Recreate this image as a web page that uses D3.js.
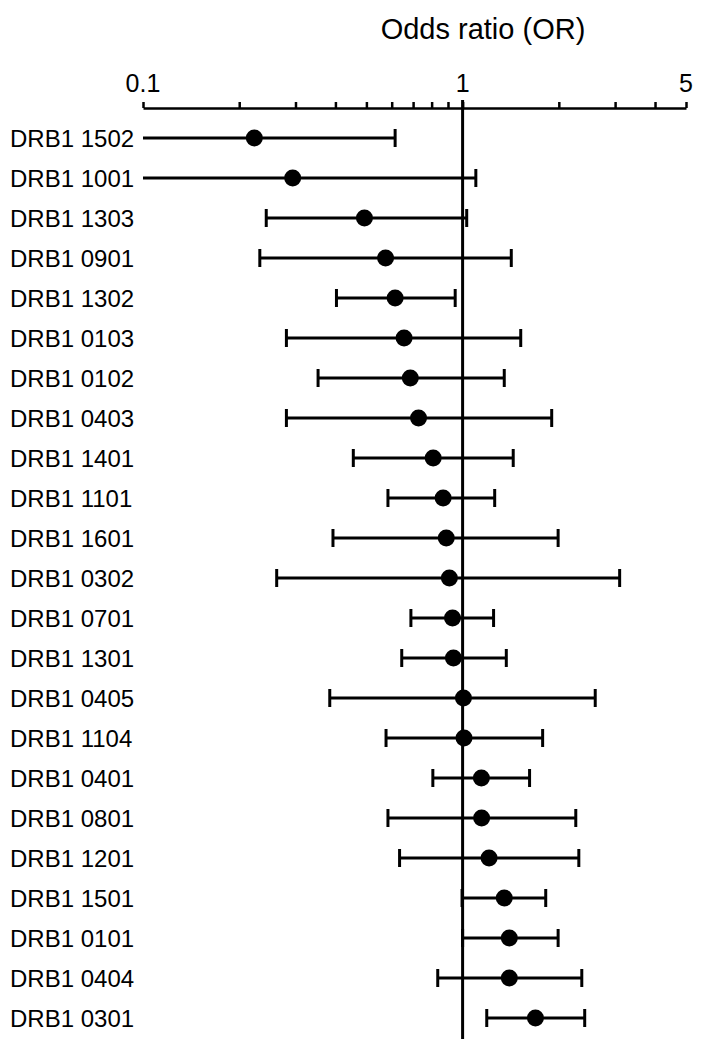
<!DOCTYPE html>
<html>
<head>
<meta charset="utf-8">
<script src="https://cdn.jsdelivr.net/npm/d3@7"></script>
<style>
  body { margin: 0; background: #fff; }
  svg { display: block; font-family: Arial, "Liberation Sans", sans-serif; }
</style>
</head>
<body>
<div id="forest"></div>
<script>
// alleles, top to bottom
var alleles = ["DRB1 1502", "DRB1 1001", "DRB1 1303", "DRB1 0901", "DRB1 1302", "DRB1 0103",
    "DRB1 0102", "DRB1 0403", "DRB1 1401", "DRB1 1101", "DRB1 1601", "DRB1 0302",
    "DRB1 0701", "DRB1 1301", "DRB1 0405", "DRB1 1104", "DRB1 0401", "DRB1 0801",
    "DRB1 1201", "DRB1 1501", "DRB1 0101", "DRB1 0404", "DRB1 0301"];
var oddsRatio = [0.223, 0.294, 0.493, 0.574, 0.615, 0.656, 0.686, 0.728, 0.809, 0.869, 0.889, 0.909,
    0.930, 0.936, 1.006, 1.01, 1.145, 1.147, 1.21, 1.35, 1.40, 1.40, 1.69];
var ciLower = [0.1, 0.1, 0.243, 0.232, 0.403, 0.281, 0.353, 0.281, 0.455, 0.584, 0.393, 0.262,
    0.689, 0.645, 0.384, 0.576, 0.807, 0.584, 0.635, 0.996, 1.0, 0.836, 1.19];
var ciUpper = [0.615, 1.10, 1.03, 1.42, 0.948, 1.52, 1.35, 1.90, 1.44, 1.26, 1.99, 3.10,
    1.25, 1.37, 2.60, 1.78, 1.62, 2.26, 2.31, 1.82, 1.99, 2.36, 2.41];
var tickValues = [0.1, 0.2, 0.3, 0.4, 0.5, 0.6, 0.7, 0.8, 0.9, 1, 2, 3, 4, 5];
var tickLabels = ["0.1", "1", "5"];

var width = 703, height = 1050;

var svg = d3.select("#forest")
    .append("svg")
        .attr("width", width)
        .attr("height", height);

// scales
var x = d3.scaleLog()
    .domain([0.1, 5])
    .range([143, 686]);
var y = d3.scalePoint()
    .domain(alleles)
    .range([138, 1018]);

var axisY = 108;

// title
svg.append("text")
    .attr("x", 483)
    .attr("y", 39)
    .attr("text-anchor", "middle")
    .style("font-size", "29px")
    .text("Odds ratio (OR)");

// top axis, ticks only; labels drawn below
var axis = svg.append("g")
    .attr("transform", "translate(0," + axisY + ")")
    .call(d3.axisTop(x)
        .tickValues(tickValues)
        .tickSize(6)
        .tickSizeOuter(0)
        .tickFormat(""));
axis.select(".domain").attr("stroke", "#000").attr("stroke-width", 2.5);
axis.selectAll(".tick line").attr("stroke", "#000").attr("stroke-width", 2.5);

svg.selectAll(".ticklabel")
    .data(tickLabels)
    .enter().append("text")
    .attr("class", "ticklabel")
    .attr("x", function(d) { return x(+d); })
    .attr("y", axisY - 16)
    .attr("text-anchor", "middle")
    .style("font-size", "25px")
    .text(function(d) { return d; });

// reference line at OR = 1
svg.append("line")
    .attr("x1", x(1)).attr("x2", x(1))
    .attr("y1", axisY - 8).attr("y2", 1039)
    .attr("stroke", "#000")
    .attr("stroke-width", 3);

// row labels
svg.selectAll(".label")
    .data(alleles)
    .enter().append("text")
    .attr("class", "label")
    .attr("x", 10)
    .attr("y", function(d) { return y(d); })
    .attr("dy", "0.36em")
    .style("font-size", "24px")
    .text(function(d) { return d; });

var rows = alleles.map(function(a, i) {
    return { name: a, or: oddsRatio[i], lo: ciLower[i], hi: ciUpper[i] };
});

var capH = 9;
var g = svg.append("g").attr("stroke", "#000").attr("stroke-width", 3);

// whiskers
g.selectAll(".ci")
    .data(rows)
    .enter().append("line")
    .attr("x1", function(d) { return x(d.lo); })
    .attr("x2", function(d) { return x(d.hi); })
    .attr("y1", function(d) { return y(d.name); })
    .attr("y2", function(d) { return y(d.name); });

// lower caps (none where the interval runs off the axis)
g.selectAll(".capLo")
    .data(rows.filter(function(d) { return d.lo > 0.1; }))
    .enter().append("line")
    .attr("x1", function(d) { return x(d.lo); })
    .attr("x2", function(d) { return x(d.lo); })
    .attr("y1", function(d) { return y(d.name) - capH; })
    .attr("y2", function(d) { return y(d.name) + capH; });

// upper caps
g.selectAll(".capHi")
    .data(rows)
    .enter().append("line")
    .attr("x1", function(d) { return x(d.hi); })
    .attr("x2", function(d) { return x(d.hi); })
    .attr("y1", function(d) { return y(d.name) - capH; })
    .attr("y2", function(d) { return y(d.name) + capH; });

// point estimates
svg.selectAll(".dot")
    .data(rows)
    .enter().append("circle")
    .attr("cx", function(d) { return x(d.or); })
    .attr("cy", function(d) { return y(d.name); })
    .attr("r", 8.5)
    .attr("fill", "#000");
</script>
</body>
</html>
